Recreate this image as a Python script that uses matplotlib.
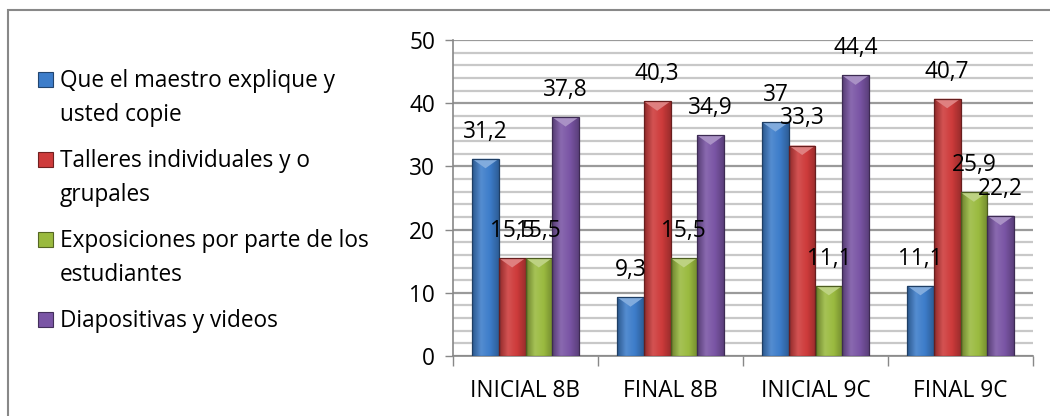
import matplotlib
matplotlib.use("Agg")
import matplotlib.pyplot as plt
import numpy as np
from matplotlib.patches import Rectangle, Polygon
from matplotlib.colors import LinearSegmentedColormap, to_rgb

categories = ["INICIAL 8B", "FINAL 8B", "INICIAL 9C", "FINAL 9C"]
series_names = ["Que el maestro explique y\nusted copie",
                "Talleres individuales y o\ngrupales",
                "Exposiciones por parte de los\nestudiantes",
                "Diapositivas y videos"]
maestro = [31.2, 9.3, 37, 11.1]
talleres = [15.5, 40.3, 33.3, 40.7]
exposiciones = [15.5, 15.5, 11.1, 25.9]
diapositivas = [37.8, 34.9, 44.4, 22.2]
series = [maestro, talleres, exposiciones, diapositivas]
colors = ["#3D7DCA", "#CE3B3B", "#9ABA3F", "#7A55A5"]
y_ticks = [0, 10, 20, 30, 40, 50]

FONT = "Open Sans"
FS = 16.3

def darker(c, f):
    r, g, b = to_rgb(c)
    return (r * f, g * f, b * f)

def lighter(c, f):
    r, g, b = to_rgb(c)
    return (r + (1 - r) * f, g + (1 - g) * f, b + (1 - b) * f)

fig = plt.figure(figsize=(10.5, 4.16), dpi=100)
ax = fig.add_axes([453 / 1050, 1 - 356 / 416, 580 / 1050, 316 / 416])

x = np.arange(len(categories))
w = 0.184
offsets = (np.arange(4) - 1.5) * w

ax.set_xlim(-0.5, 3.5)
ax.set_ylim(0, 50)

for i, (vals, c) in enumerate(zip(series, colors)):
    bars = ax.bar(x + offsets[i], vals, width=w, color=c,
                  edgecolor=darker(c, 0.5), linewidth=0.9, zorder=3)
    cmap = LinearSegmentedColormap.from_list(
        "g", [darker(c, 0.7), lighter(c, 0.12), c, darker(c, 0.75)])
    grad = np.linspace(0, 1, 64).reshape(1, -1)
    for b, v in zip(bars, vals):
        bx, by, bw, bh = b.get_x(), b.get_y(), b.get_width(), b.get_height()
        im = ax.imshow(grad, cmap=cmap, aspect="auto",
                       extent=[bx, bx + bw, by, by + bh], zorder=3.5,
                       interpolation="bicubic")
        im.set_clip_path(b)
        tri = Polygon([[bx, by + bh], [bx + bw, by + bh],
                       [bx + bw / 2, by + bh - min(1.5, bh)]],
                      closed=True, facecolor=lighter(c, 0.35),
                      edgecolor="none", zorder=4)
        ax.add_patch(tri)
        b.set_zorder(4.5)
        b.set_facecolor("none")
        txt = ("%g" % v).replace(".", ",")
        ax.annotate(txt, (bx + bw / 2, by + bh), xytext=(0, 19.5),
                    textcoords="offset points", ha="center", va="center",
                    fontsize=FS, family=FONT, color="black", zorder=6)

ax.set_xlim(-0.5, 3.5)
ax.set_ylim(0, 50)

ax.set_yticks(y_ticks)
ax.set_yticks(np.arange(0, 51, 2), minor=True)
ax.tick_params(axis="y", which="major", direction="out", length=6,
               color="#888888", width=1, labelsize=FS, pad=7)
ax.tick_params(axis="y", which="minor", length=0)
ax.set_xticks(np.arange(-0.5, 3.6, 1))
ax.set_xticklabels([])
ax.set_xticks(x, minor=True)
ax.set_xticklabels(categories, minor=True)
ax.tick_params(axis="x", which="major", direction="out", length=7,
               color="#888888", width=1)
ax.tick_params(axis="x", which="minor", length=0, labelsize=FS, pad=16.5)
for lab in ax.get_xticklabels(minor=True) + ax.get_yticklabels():
    lab.set_family(FONT)

ax.grid(axis="y", which="minor", color="#C8C8C8", linewidth=1.6, zorder=0)
ax.grid(axis="y", which="major", color="#9A9A9A", linewidth=1.6, zorder=0)
ax.set_axisbelow(True)
for s in ["top", "right"]:
    ax.spines[s].set_visible(False)
for s in ["left", "bottom"]:
    ax.spines[s].set_color("#888888")
    ax.spines[s].set_linewidth(1.2)
ax.set_facecolor("white")

# legend
legend_y = [80, 160, 240, 320]
for name, c, yy in zip(series_names, colors, legend_y):
    fy = 1 - yy / 416
    sq = Rectangle((38 / 1050, fy - 7 / 416), 15 / 1050, 15 / 416,
                   transform=fig.transFigure, facecolor=c,
                   edgecolor=darker(c, 0.55), linewidth=0.8)
    fig.add_artist(sq)
    fig.text(60 / 1050, fy + 11 / 416, name, ha="left", va="top",
             fontsize=FS, family=FONT, linespacing=1.58,
             transform=fig.transFigure)

frame = Rectangle((8 / 1050, -0.2), 2, 1.2 - 10 / 416,
                  transform=fig.transFigure, fill=False,
                  edgecolor="#888888", linewidth=1.5)
fig.add_artist(frame)

fig.savefig("out.png", dpi=100)
